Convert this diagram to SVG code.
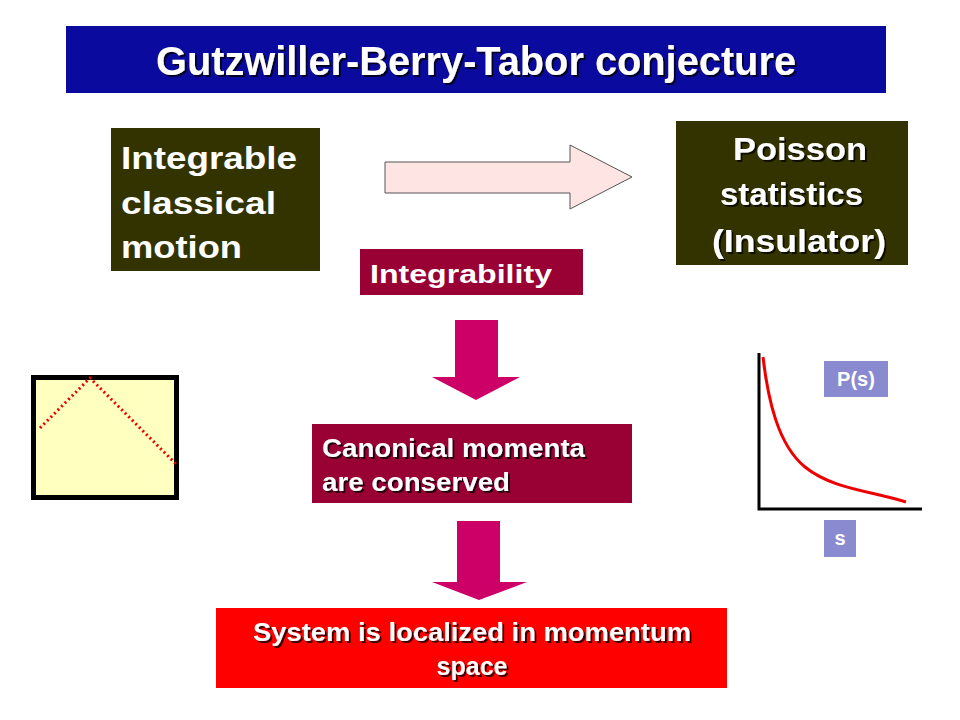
<svg xmlns="http://www.w3.org/2000/svg" width="960" height="720" viewBox="0 0 960 720">
<defs>
<style>
.t{font-family:"Liberation Sans",Arial,sans-serif;font-weight:bold;fill:#fff}
.s{filter:url(#shadow)}
.down{fill:#cc0066}
.dark{fill:#333300}
.wine{fill:#990033}
.tag{fill:#8a8ad0}
</style>
<filter id="shadow" x="-5%" y="-20%" width="110%" height="140%">
<feDropShadow dx="2" dy="2" stdDeviation="0.6" flood-color="#000" flood-opacity="0.75"/>
</filter>
</defs>
<rect width="960" height="720" fill="#fff"/>
<g id="title">
<rect x="66" y="26" width="820" height="67" fill="#0a0a9e"/>
<text class="t s" x="476" y="75" font-size="40" text-anchor="middle" textLength="640" lengthAdjust="spacingAndGlyphs">Gutzwiller-Berry-Tabor conjecture</text>
</g>
<g id="integrable">
<rect class="dark" x="111" y="128" width="209" height="143"/>
<text class="t" x="121" y="169" font-size="31" textLength="176" lengthAdjust="spacingAndGlyphs">Integrable</text>
<text class="t" x="121" y="214" font-size="31" textLength="155" lengthAdjust="spacingAndGlyphs">classical</text>
<text class="t" x="121" y="258" font-size="31" textLength="121" lengthAdjust="spacingAndGlyphs">motion</text>
</g>
<g id="poisson">
<rect class="dark" x="676" y="121" width="232" height="144"/>
<text class="t s" x="733" y="160" font-size="31" textLength="134" lengthAdjust="spacingAndGlyphs">Poisson</text>
<text class="t s" x="720" y="205" font-size="31" textLength="143" lengthAdjust="spacingAndGlyphs">statistics</text>
<text class="t s" x="712" y="252" font-size="31" textLength="174" lengthAdjust="spacingAndGlyphs">(Insulator)</text>
</g>
<g id="integrability">
<rect class="wine" x="360" y="249" width="223" height="46"/>
<text class="t" x="370" y="283" font-size="25" textLength="182" lengthAdjust="spacingAndGlyphs">Integrability</text>
</g>
<g id="canonical">
<rect class="wine" x="312" y="424" width="320" height="79"/>
<text class="t s" x="322" y="457" font-size="25" textLength="263" lengthAdjust="spacingAndGlyphs">Canonical momenta</text>
<text class="t s" x="322" y="491" font-size="25" textLength="188" lengthAdjust="spacingAndGlyphs">are conserved</text>
</g>
<g id="system">
<rect x="216" y="608" width="511" height="80" fill="#ff0000"/>
<text class="t s" x="472" y="641" font-size="25" text-anchor="middle" textLength="438" lengthAdjust="spacingAndGlyphs">System is localized in momentum</text>
<text class="t s" x="472" y="675" font-size="25" text-anchor="middle">space</text>
</g>
<g id="billiard">
<rect x="33.5" y="377.5" width="143" height="120" fill="#ffffc0" stroke="#000" stroke-width="5"/>
<polyline points="40,428 90,378 176,464" fill="none" stroke="#ee0000" stroke-width="3" stroke-dasharray="2,3"/>
</g>
<g id="plot">
<path d="M759,353 V509 H922" fill="none" stroke="#000" stroke-width="3"/>
<path d="M763,357 C768,400 778,445 805,467 S872,491 906,502" fill="none" stroke="#ee0000" stroke-width="3"/>
<rect class="tag" x="824" y="361" width="64" height="36"/>
<text class="t" x="856" y="386" font-size="20" text-anchor="middle">P(s)</text>
<rect class="tag" x="824" y="520" width="32" height="37"/>
<text class="t" x="840" y="545" font-size="20" text-anchor="middle">s</text>
</g>
<g id="connectors">
<polygon points="385,162 570,162 570,145 632,177 570,209 570,193 385,193" fill="#ffe4e4" stroke="#555" stroke-width="1"/>
<polygon class="down" points="455,320 498,320 498,377 520,377 476,400 432,377 455,377"/>
<polygon class="down" points="457,521 500,521 500,582 527,582 479,600 432,582 457,582"/>
</g>
</svg>
